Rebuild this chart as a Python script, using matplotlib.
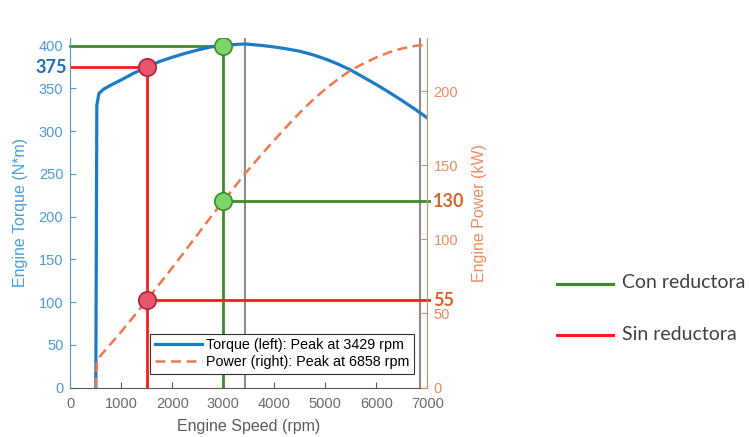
import matplotlib
matplotlib.use("Agg")
import matplotlib.pyplot as plt
from matplotlib.lines import Line2D

# ---- data ----
rpm = [500, 520, 560, 650, 800, 1000, 1250, 1500, 1750, 2000, 2250, 2500, 2750,
       3000, 3250, 3429, 3750, 4000, 4250, 4500, 4750, 5000, 5250, 5500, 5750,
       6000, 6250, 6500, 6750, 6858, 7000]
torque_nm = [0, 330, 344, 349, 354, 360, 368, 375, 381.5, 386.5, 391, 395, 398.5,
             400, 401.5, 402, 400.3, 398.5, 396.2, 393.5, 389.5, 384.5, 378.5, 371.5, 363,
             354.5, 345.5, 336, 326, 321.5, 315.5]
power_kw = [0, 18.0, 20.2, 23.8, 29.7, 37.7, 48.2, 58.9, 69.9, 80.9, 92.1, 103.4, 114.8,
            125.7, 136.6, 144.4, 157.2, 166.9, 176.3, 185.4, 193.8, 201.3, 208.1, 214.0, 218.6,
            222.7, 226.1, 228.7, 230.4, 230.9, 230.7]

peak_torque_rpm = 3429
peak_power_rpm = 6858

con_rpm, con_torque, con_power = 3000, 400, 125.7
sin_rpm, sin_torque, sin_power = 1500, 375, 58.9
con_label_power = "130"
sin_label_power = "55"
sin_label_torque = "375"

x_ticks = [0, 1000, 2000, 3000, 4000, 5000, 6000, 7000]
left_ticks = [0, 50, 100, 150, 200, 250, 300, 350, 400]
right_ticks = [0, 50, 100, 150, 200]

legend_labels = ["Torque (left): Peak at 3429 rpm", "Power (right): Peak at 6858 rpm"]
side_labels = ["Con reductora", "Sin reductora"]

# ---- styles ----
C_TORQUE = "#1B7CC5"
C_LEFT = "#4C9BDA"
C_POWER = "#EC7A4C"
C_RIGHT = "#EE8A5E"
C_GREEN = "#3C8C2A"
C_GREEN_FACE = "#7ED66A"
C_RED = "#FF1A1A"
C_RED_FACE = "#E8566E"
C_RED_EDGE = "#B0203A"
C_GRAY = "#8C8C8C"

plt.rcParams["font.family"] = ["Liberation Sans", "DejaVu Sans"]

fig = plt.figure(figsize=(7.49, 4.37), dpi=100)
ax = fig.add_axes([70.3 / 749, 1 - 387.5 / 437, 357.0 / 749, 349.5 / 437])
ax2 = ax.twinx()

ax.set_xlim(0, 7000)
ax.set_ylim(0, 409)
ax2.set_ylim(0, 235.8)

# gray peak lines
ax.axvline(peak_torque_rpm, color=C_GRAY, lw=1.5, zorder=1)
ax.axvline(peak_power_rpm, color=C_GRAY, lw=1.5, zorder=1)

# torque curve
l1, = ax.plot(rpm, torque_nm, color=C_TORQUE, lw=2.3, zorder=3,
              solid_joinstyle="round", label=legend_labels[0])

# reference lines on torque axis
ax.plot([0, con_rpm], [con_torque, con_torque], color=C_GREEN, lw=2.0, zorder=2, clip_on=False)
ax.plot([con_rpm, con_rpm], [0, con_torque], color=C_GREEN, lw=2.0, zorder=2)
ax.plot([0, sin_rpm], [sin_torque, sin_torque], color=C_RED, lw=2.0, zorder=2)
ax.plot([sin_rpm, sin_rpm], [0, sin_torque], color=C_RED, lw=2.0, zorder=2)
ax.plot([con_rpm], [con_torque], "o", ms=12.5, mfc=C_GREEN_FACE, mec=C_GREEN, mew=1.2, zorder=6)
ax.plot([sin_rpm], [sin_torque], "o", ms=12.5, mfc=C_RED_FACE, mec=C_RED_EDGE, mew=1.2, zorder=6)

# power curve
l2, = ax2.plot(rpm, power_kw, color=C_POWER, lw=1.8, dashes=(4, 2.2), zorder=3,
               label=legend_labels[1])
ax2.plot([con_rpm, 7030], [con_power, con_power], color=C_GREEN, lw=2.0, zorder=2, clip_on=False)
ax2.plot([sin_rpm, 7030], [sin_power, sin_power], color=C_RED, lw=2.0, zorder=2, clip_on=False)
ax2.plot([con_rpm], [con_power], "o", ms=12.5, mfc=C_GREEN_FACE, mec=C_GREEN, mew=1.2, zorder=6)
ax2.plot([sin_rpm], [sin_power], "o", ms=12.5, mfc=C_RED_FACE, mec=C_RED_EDGE, mew=1.2, zorder=6)

# annotations
ax.text(-0.009, sin_torque, sin_label_torque, transform=ax.get_yaxis_transform(),
        ha="right", va="center", fontsize=13, fontweight="bold", color="#1E6FB8",
        family=["Lato", "DejaVu Sans"], clip_on=False)
ax2.text(1.016, con_power, con_label_power, transform=ax2.get_yaxis_transform(),
         ha="left", va="center", fontsize=13, fontweight="bold", color="#D9652A",
         family=["Lato", "DejaVu Sans"], clip_on=False)
ax2.text(1.016, sin_power, sin_label_power, transform=ax2.get_yaxis_transform(),
         ha="left", va="center", fontsize=13, fontweight="bold", color="#D9652A",
         family=["Lato", "DejaVu Sans"], clip_on=False)

# axes styling
ax.set_xticks(x_ticks)
ax.set_yticks(left_ticks)
ax2.set_yticks(right_ticks)
ax.tick_params(axis="x", direction="in", length=4, pad=7, labelsize=10.5,
               colors="#5A5A5A", labelcolor="#6A6A6A")
ax.tick_params(axis="y", direction="in", length=4, pad=5, labelsize=10.5,
               colors=C_LEFT, labelcolor=C_LEFT)
ax2.tick_params(axis="y", direction="in", length=4, pad=4.5, labelsize=10.5,
                colors=C_RIGHT, labelcolor=C_RIGHT)

for a in (ax, ax2):
    a.spines["top"].set_visible(False)
ax.spines["right"].set_visible(False)
ax2.spines["left"].set_visible(False)
ax2.spines["bottom"].set_visible(False)
ax.spines["left"].set_color(C_LEFT)
ax.spines["bottom"].set_color("#5A5A5A")
ax2.spines["right"].set_color(C_RIGHT)

ax.set_xlabel("Engine Speed (rpm)", fontsize=11.5, color="#5A5A5A")
ax.set_ylabel("Engine Torque (N*m)", fontsize=11.5, color=C_LEFT)
ax2.set_ylabel("Engine Power (kW)", fontsize=11.5, color=C_RIGHT)
ax.xaxis.set_label_coords(0.5, -0.09)
ax.yaxis.set_label_coords(-0.118, 0.5)
ax2.yaxis.set_label_coords(1.125, 0.5)

leg = ax2.legend(handles=[l1, l2], loc="lower right", bbox_to_anchor=(0.962, 0.04),
                 borderaxespad=0, fontsize=10.3, handlelength=3.3, frameon=True,
                 fancybox=False, framealpha=1, edgecolor="#333333",
                 borderpad=0.3, labelspacing=0.2, handletextpad=0.3)
leg.get_frame().set_linewidth(0.8)
leg.set_zorder(10)

# side legend
fig.add_artist(Line2D([557 / 749, 613 / 749], [1 - 284 / 437] * 2,
                      transform=fig.transFigure, color=C_GREEN, lw=2.2))
fig.add_artist(Line2D([557 / 749, 613 / 749], [1 - 335 / 437] * 2,
                      transform=fig.transFigure, color=C_RED, lw=2.2))
fig.text(622 / 749, 1 - 283 / 437, side_labels[0], ha="left", va="center",
         fontsize=14, color="#404040", family=["Lato", "DejaVu Sans"])
fig.text(622 / 749, 1 - 334 / 437, side_labels[1], ha="left", va="center",
         fontsize=14, color="#404040", family=["Lato", "DejaVu Sans"])

fig.savefig("out.png", dpi=100)
